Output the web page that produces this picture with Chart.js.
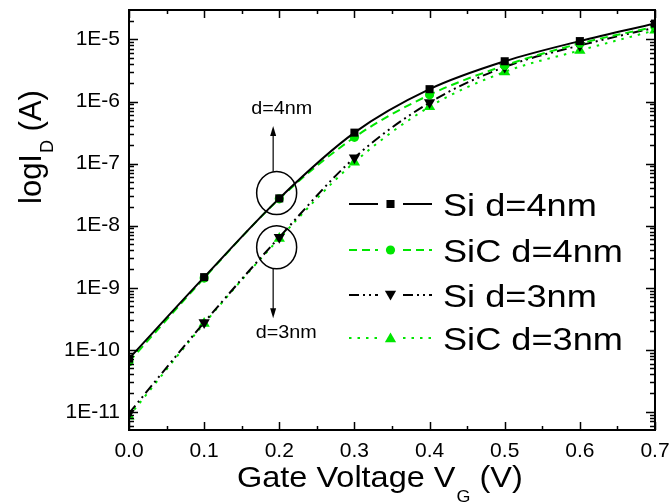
<!DOCTYPE html>
<html><head><meta charset="utf-8">
<script src="https://cdn.jsdelivr.net/npm/chart.js@4.4.0/dist/chart.umd.min.js"></script>
<style>html,body{margin:0;padding:0;background:#fff;}#wrap{width:672px;height:504px;}</style>
</head><body><div id="wrap"><canvas id="c" width="672" height="504"></canvas></div>
<script>
// ---- data ----
const gateVoltage = [0.0, 0.1, 0.2, 0.3, 0.4, 0.5, 0.6, 0.7];
const siD4  = [7.2e-11, 1.48e-9, 2.75e-8, 3.15e-7, 1.58e-6, 4.45e-6, 9.4e-6, 1.8e-5];
const sicD4 = [6.4e-11, 1.43e-9, 2.7e-8,  2.65e-7, 1.28e-6, 3.8e-6,  8.6e-6, 1.6e-5];
const siD3  = [9.5e-12, 2.75e-10, 6.5e-9, 1.24e-7, 9.6e-7,  3.6e-6,  8.0e-6, 1.55e-5];
const sicD3 = [8.5e-12, 2.65e-10, 6.2e-9, 1.05e-7, 8.2e-7,  3.0e-6,  6.65e-6, 1.4e-5];
const seriesLabels = ['Si d=4nm', 'SiC d=4nm', 'Si d=3nm', 'SiC d=3nm'];
const xTickValues = [0.0, 0.1, 0.2, 0.3, 0.4, 0.5, 0.6, 0.7];
const xMinorTickValues = [0.05, 0.15, 0.25, 0.35, 0.45, 0.55, 0.65];
const yTickValues = [1e-11, 1e-10, 1e-9, 1e-8, 1e-7, 1e-6, 1e-5];
const yTickLabels = ['1E-11', '1E-10', '1E-9', '1E-8', '1E-7', '1E-6', '1E-5'];
const annotationLabels = ['d=4nm', 'd=3nm'];

const FONT = '"Liberation Sans", Arial, Helvetica, sans-serif';
const GREEN = '#00e600';
const BLACK = '#000000';

function pts(ys){ return gateVoltage.map((x,i)=>({x:x, y:ys[i]})); }

const styles = [
  {color:BLACK, dash:[], marker:'rect', r:5.7, rot:0},
  {color:GREEN, dash:[8,5], marker:'circle', r:4.6, rot:0},
  {color:BLACK, dash:[10,4,2,4,2,4], marker:'triangle', r:6.5, rot:180},
  {color:GREEN, dash:[2.5,6], marker:'triangle', r:6.5, rot:0}
];
const seriesData = [siD4, sicD4, siD3, sicD3];

const datasets = seriesData.map((d,i)=>({
  label: seriesLabels[i],
  data: pts(d),
  borderColor: styles[i].color,
  backgroundColor: styles[i].color,
  borderWidth: 2,
  borderDash: styles[i].dash,
  pointStyle: styles[i].marker,
  pointRadius: styles[i].r,
  pointRotation: styles[i].rot,
  pointBorderWidth: 0,
  pointBackgroundColor: styles[i].color,
  cubicInterpolationMode: 'monotone',
  clip: 0,
  fill: false
}));

function drawMarker(ctx, type, x, y, r, rot, color){
  ctx.save();
  ctx.fillStyle = color;
  ctx.beginPath();
  if (type === 'rect'){
    const s = r*Math.SQRT1_2;
    ctx.rect(x-s, y-s, 2*s, 2*s);
  } else if (type === 'circle'){
    ctx.arc(x, y, r, 0, Math.PI*2);
  } else {
    const a = rot*Math.PI/180;
    for (let k=0;k<3;k++){
      const ang = a + k*2*Math.PI/3;
      if (k===0) ctx.moveTo(x + Math.sin(ang)*r, y - Math.cos(ang)*r);
      else ctx.lineTo(x + Math.sin(ang)*r, y - Math.cos(ang)*r);
    }
    ctx.closePath();
  }
  ctx.fill();
  ctx.restore();
}

function drawStretched(ctx, text, x, y, size, sx, align){
  ctx.save();
  ctx.font = size + 'px ' + FONT;
  ctx.textBaseline = 'alphabetic';
  const w = ctx.measureText(text).width * sx;
  let left = x;
  if (align === 'center') left = x - w/2;
  else if (align === 'right') left = x - w;
  ctx.translate(left, y);
  ctx.scale(sx, 1);
  ctx.textAlign = 'left';
  ctx.fillText(text, 0, 0);
  ctx.restore();
  return w;
}

const decorPlugin = {
  id: 'decor',
  afterDatasetsDraw(chart){
    const ctx = chart.ctx, a = chart.chartArea, xs = chart.scales.x, ys = chart.scales.y;
    ctx.save();
    // inward ticks on all four sides
    ctx.strokeStyle = BLACK; ctx.lineWidth = 1.5; ctx.setLineDash([]);
    ctx.beginPath();
    xTickValues.forEach(v=>{
      const p = Math.round(xs.getPixelForValue(v))+0.5;
      ctx.moveTo(p, a.bottom); ctx.lineTo(p, a.bottom-8);
      ctx.moveTo(p, a.top); ctx.lineTo(p, a.top+8);
    });
    xMinorTickValues.forEach(v=>{
      const p = Math.round(xs.getPixelForValue(v))+0.5;
      ctx.moveTo(p, a.bottom); ctx.lineTo(p, a.bottom-4);
      ctx.moveTo(p, a.top); ctx.lineTo(p, a.top+4);
    });
    for (let d=-12; d<=-4; d++){
      for (let k=1; k<=9; k++){
        const v = k*Math.pow(10,d);
        if (v < ys.min || v > ys.max) continue;
        const p = Math.round(ys.getPixelForValue(v))+0.5;
        const len = k===1 ? 9 : 5;
        ctx.moveTo(a.left, p); ctx.lineTo(a.left+len, p);
        ctx.moveTo(a.right, p); ctx.lineTo(a.right-len, p);
      }
    }
    ctx.stroke();
    ctx.lineWidth = 2;
    ctx.strokeRect(a.left, a.top, a.right-a.left, a.bottom-a.top);

    // circles and arrows
    const cx1 = xs.getPixelForValue(0.1965), cy1 = ys.getPixelForValue(3.36e-8);
    const cx2 = xs.getPixelForValue(0.1965), cy2 = ys.getPixelForValue(4.48e-9);
    ctx.lineWidth = 1.5;
    ctx.beginPath(); ctx.ellipse(cx1, cy1, 20, 21.5, 0, 0, Math.PI*2); ctx.stroke();
    ctx.beginPath(); ctx.ellipse(cx2, cy2, 20, 21.5, 0, 0, Math.PI*2); ctx.stroke();
    const ax = cx1 - 3.5;
    ctx.lineWidth = 1.2;
    ctx.beginPath(); ctx.moveTo(ax, cy1-21.5); ctx.lineTo(ax, cy1-60); ctx.stroke();
    ctx.beginPath(); ctx.moveTo(ax, cy1-67); ctx.lineTo(ax-3, cy1-57); ctx.lineTo(ax+3, cy1-57); ctx.closePath(); ctx.fillStyle=BLACK; ctx.fill();
    ctx.beginPath(); ctx.moveTo(ax, cy2+21.5); ctx.lineTo(ax, cy2+63); ctx.stroke();
    ctx.beginPath(); ctx.moveTo(ax, cy2+71); ctx.lineTo(ax-3, cy2+61); ctx.lineTo(ax+3, cy2+61); ctx.closePath(); ctx.fill();
    ctx.fillStyle = BLACK;
    drawStretched(ctx, annotationLabels[0], cx1+5, cy1-79, 17.5, 1.13, 'center');
    drawStretched(ctx, annotationLabels[1], cx2+9.5, cy2+90.5, 17.5, 1.13, 'center');

    // legend
    const rowsY = [204, 250, 295, 338];
    const l0 = 349, l1 = 378, l2 = 403, l3 = 432, mx = 390.5, tx = 443;
    rowsY.forEach((ry,i)=>{
      const s = styles[i];
      ctx.save();
      ctx.strokeStyle = s.color; ctx.lineWidth = 2; ctx.setLineDash(s.dash);
      ctx.beginPath(); ctx.moveTo(l0, ry); ctx.lineTo(l1, ry); ctx.stroke();
      ctx.beginPath(); ctx.moveTo(l2, ry); ctx.lineTo(l3, ry); ctx.stroke();
      ctx.restore();
      drawMarker(ctx, s.marker, mx, ry + (s.marker==='triangle' ? (s.rot===180?-1:1) : 0), s.r, s.rot, s.color);
      ctx.fillStyle = BLACK;
      drawStretched(ctx, seriesLabels[i], tx, ry+11.5, 32, 1.13, 'left');
    });
    ctx.restore();
  },
  afterDraw(chart){
    const ctx = chart.ctx;
    ctx.save();
    ctx.fillStyle = BLACK;
    // x title with subscript
    let x = 237;
    x += drawStretched(ctx, 'Gate Voltage V', x, 487, 29, 1.12, 'left');
    x += 1;
    x += drawStretched(ctx, 'G', x, 502, 16, 1.12, 'left');
    drawStretched(ctx, ' (V)', x, 487, 29, 1.12, 'left');
    // y title rotated
    ctx.translate(41, 204);
    ctx.rotate(-Math.PI/2);
    let y0 = 0;
    y0 += drawStretched(ctx, 'logI', y0, 0, 31, 1.0, 'left');
    y0 += 1;
    y0 += drawStretched(ctx, 'D', y0, 12, 18, 1.0, 'left');
    drawStretched(ctx, ' (A)', y0, 0, 31, 1.0, 'left');
    ctx.restore();
  }
};

function zeroPad(s){ s.paddingTop = 0; s.paddingBottom = 0; s.paddingLeft = 0; s.paddingRight = 0; }

new Chart(document.getElementById('c'), {
  type: 'line',
  data: { datasets: datasets },
  options: {
    responsive: false,
    animation: false,
    devicePixelRatio: 1,
    layout: { padding: { left: 0, right: 17, top: 10, bottom: 0 } },
    plugins: { legend: { display: false }, tooltip: { enabled: false } },
    scales: {
      x: {
        type: 'linear', min: 0, max: 0.7,
        afterBuildTicks: s => { s.ticks = xTickValues.map(v => ({ value: v })); },
        afterFit: s => { s.height = 74; zeroPad(s); },
        ticks: { callback: v => Number(v).toFixed(1), font: { size: 21, family: FONT }, color: BLACK, padding: 9, autoSkip: false, maxRotation: 0 },
        grid: { display: false, drawTicks: false },
        border: { display: false }
      },
      y: {
        type: 'logarithmic', min: 5.1e-12, max: 2.98e-5,
        afterBuildTicks: s => { s.ticks = yTickValues.map(v => ({ value: v })); },
        afterFit: s => { s.width = 129; zeroPad(s); },
        ticks: { callback: (v, i) => yTickLabels[yTickValues.findIndex(t => Math.abs(Math.log10(t) - Math.log10(v)) < 1e-6)], font: { size: 21, family: FONT }, color: BLACK, padding: 9, autoSkip: false },
        grid: { display: false, drawTicks: false },
        border: { display: false }
      }
    }
  },
  plugins: [decorPlugin]
});
</script></body></html>
